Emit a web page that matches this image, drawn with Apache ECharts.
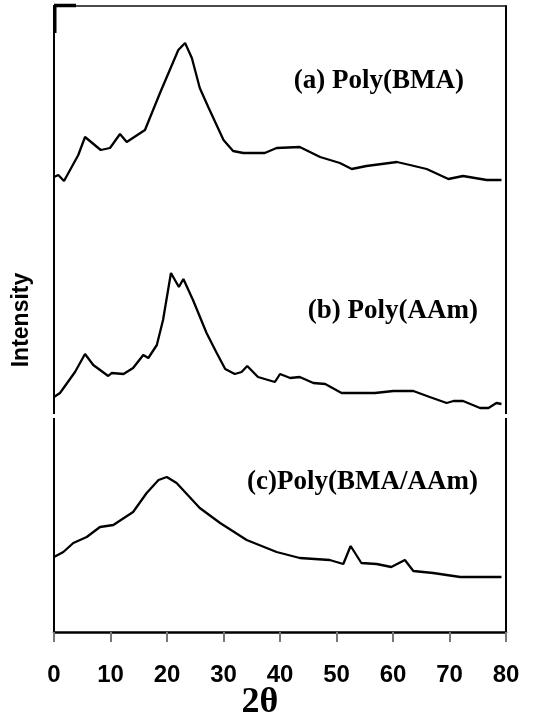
<!DOCTYPE html>
<html>
<head>
<meta charset="utf-8">
<script src="https://cdn.jsdelivr.net/npm/echarts@6/dist/echarts.min.js"></script>
<style>
  html, body { margin: 0; padding: 0; background: #fff; }
  #chart { width: 547px; height: 719px; }
</style>
</head>
<body>
<div id="chart"></div>
<script>
// XRD patterns, intensity in arbitrary units (stacked offsets included)
const tickLabels = ['0', '10', '20', '30', '40', '50', '60', '70', '80'];

const bmaTheta = [0, 0.76, 1.77, 4.3, 5.49, 8.27, 9.91, 11.68, 12.87, 16.1, 18.76, 22.0, 23.2, 24.4, 25.8, 27.3, 30.0, 31.7, 33.5, 37.3, 39.4, 43.5, 47.1, 50.6, 52.7, 55.3, 60.7, 63.0, 65.96, 69.8, 72.4, 76.6, 79.2];
const bmaInt = [455, 457, 451, 477, 495, 482, 484, 498, 490, 502, 539, 582, 589, 574, 544, 525, 492, 481, 479, 479, 484, 485, 475, 469, 463, 466, 470, 467, 463, 453, 456, 452, 452];

const aamTheta = [0, 1.06, 3.72, 5.49, 6.95, 9.6, 10.2, 12.3, 14.0, 15.8, 16.7, 18.2, 19.3, 20.7, 22.1, 22.9, 24.6, 27.0, 28.8, 30.3, 32.0, 33.2, 34.2, 36.1, 39.1, 40.0, 41.8, 43.5, 45.9, 48.0, 50.9, 56.8, 60.05, 63.6, 66.5, 69.5, 70.7, 72.4, 75.4, 76.9, 78.3, 79.2];
const aamInt = [235, 239, 260, 278, 267, 256, 259, 258, 264, 277, 274, 287, 312, 359, 345, 353, 332, 299, 279, 263, 258, 260, 266, 255, 250, 258, 254, 255, 249, 248, 239, 239, 241, 241, 235, 229, 231, 231, 224, 224, 229, 228];

const copTheta = [0, 1.65, 3.42, 5.79, 8.14, 10.5, 14.0, 16.4, 18.5, 19.96, 21.7, 25.8, 29.4, 34.1, 39.4, 43.5, 48.8, 51.2, 52.5, 54.4, 57.1, 59.7, 62.1, 63.6, 67.1, 71.9, 79.2];
const copInt = [75, 80, 89, 95, 105, 107, 120, 139, 152, 155, 149, 124, 109, 92, 80, 74, 72, 68, 86, 69, 68, 65, 72, 61, 59, 55, 55];

const seriesNames = ['(a) Poly(BMA)', '(b) Poly(AAm)', '(c)Poly(BMA/AAm)'];

function pairs(xs, ys) {
  return xs.map((x, i) => [x, ys[i]]);
}

const chart = echarts.init(document.getElementById('chart'));

const boxLine = { show: true, lineStyle: { color: '#000', width: 2 } };
const curve = { color: '#000', width: 2.3 };
const serif = '"Liberation Serif", "Times New Roman", serif';
const sans = '"Liberation Sans", Arial, sans-serif';

chart.setOption({
  animation: false,
  backgroundColor: '#fff',
  grid: { left: 54, right: 41, top: 6, bottom: 87, show: false },
  xAxis: [
    {
      type: 'value', min: 0, max: 80, interval: 10,
      axisLine: { show: true, onZero: false, lineStyle: { color: '#000', width: 2.5 } },
      axisTick: { show: true, length: 10, lineStyle: { color: '#777', width: 2 } },
      axisLabel: {
        margin: 31,
        formatter: (v) => tickLabels[Math.round(v / 10)],
        color: '#000', fontWeight: 'bold', fontSize: 24,
        fontFamily: sans
      },
      splitLine: { show: false }
    },
    {
      type: 'value', min: 0, max: 80, position: 'top',
      axisLine: { show: true, onZero: false, lineStyle: { color: '#111', width: 1.5 } },
      axisTick: { show: false }, axisLabel: { show: false }, splitLine: { show: false }
    }
  ],
  yAxis: [
    {
      type: 'value', min: 0, max: 626, position: 'left',
      axisLine: Object.assign({ onZero: false }, boxLine),
      axisTick: { show: false }, axisLabel: { show: false }, splitLine: { show: false }
    },
    {
      type: 'value', min: 0, max: 626, position: 'right',
      axisLine: Object.assign({ onZero: false }, boxLine),
      axisTick: { show: false }, axisLabel: { show: false }, splitLine: { show: false }
    }
  ],
  series: [
    { name: seriesNames[0], type: 'line', data: pairs(bmaTheta, bmaInt), showSymbol: false, lineStyle: curve, z: 3 },
    { name: seriesNames[1], type: 'line', data: pairs(aamTheta, aamInt), showSymbol: false, lineStyle: curve, z: 3 },
    { name: seriesNames[2], type: 'line', data: pairs(copTheta, copInt), showSymbol: false, lineStyle: curve, z: 3 }
  ],
  graphic: [
    // break in the side frame lines between panels (b) and (c)
    { type: 'rect', shape: { x: 49, y: 414, width: 10, height: 4 }, style: { fill: '#fff' }, z: 100 },
    { type: 'rect', shape: { x: 501, y: 414, width: 10, height: 4 }, style: { fill: '#fff' }, z: 100 },
    // heavier stroke at the upper-left corner of the frame
    { type: 'line', shape: { x1: 54, y1: 5.5, x2: 76, y2: 5.5 }, style: { stroke: '#000', lineWidth: 3.5 }, z: 100 },
    { type: 'line', shape: { x1: 55, y1: 5, x2: 55, y2: 33 }, style: { stroke: '#000', lineWidth: 3 }, z: 100 },
    // panel captions
    { type: 'text', right: 547 - 464, top: 68, style: { text: seriesNames[0], fill: '#000', font: 'bold 27px ' + serif }, z: 100 },
    { type: 'text', right: 547 - 478, top: 298, style: { text: seriesNames[1], fill: '#000', font: 'bold 27px ' + serif }, z: 100 },
    { type: 'text', right: 547 - 478, top: 469, style: { text: seriesNames[2], fill: '#000', font: 'bold 27px ' + serif }, z: 100 },
    // axis titles
    {
      type: 'text', x: 22, y: 320, rotation: Math.PI / 2,
      style: { text: 'Intensity', fill: '#000', font: 'bold 23px ' + sans, align: 'center', verticalAlign: 'middle' }, z: 100
    },
    {
      type: 'text', x: 260, y: 703,
      style: { text: '2θ', fill: '#000', font: 'bold 36px ' + serif, align: 'center', verticalAlign: 'middle' }, z: 100
    }
  ]
});
</script>
</body>
</html>
